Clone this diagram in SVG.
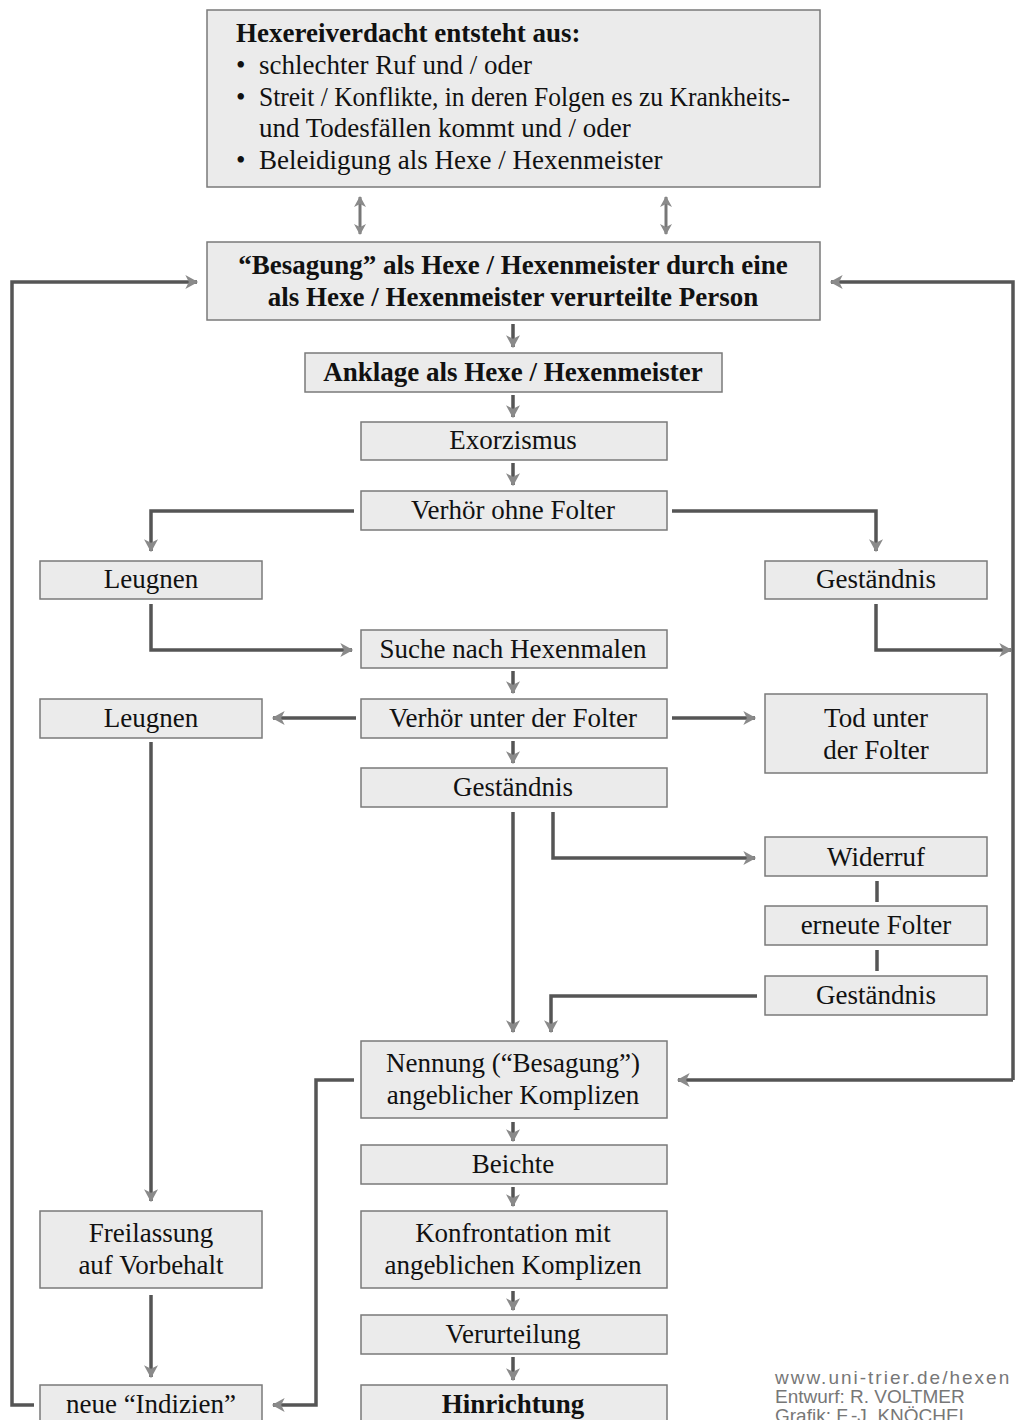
<svg xmlns="http://www.w3.org/2000/svg" width="1015" height="1420" viewBox="0 0 1015 1420">
<defs>
<style>
.box{fill:#ebebeb;stroke:#7a7a7a;stroke-width:1.5}
.t{font-family:"Liberation Serif","Times New Roman",serif;font-size:27px;fill:#111;text-anchor:middle}
.tl{font-family:"Liberation Serif","Times New Roman",serif;font-size:27px;fill:#111}
.b{font-weight:bold}
.c{fill:none;stroke:#555;stroke-width:3.5}
.foot{font-family:"Liberation Sans",Arial,sans-serif;font-size:19px;fill:#777}
</style>
<marker id="ah" markerUnits="userSpaceOnUse" markerWidth="14" markerHeight="14" viewBox="0 0 12 12" refX="10" refY="6" orient="auto">
<path d="M0,0 L11,6 L0,12 L3,6 z" fill="#8a8a8a"/>
</marker>
<marker id="ahs" markerUnits="userSpaceOnUse" markerWidth="12" markerHeight="12" viewBox="0 0 12 12" refX="10" refY="6" orient="auto-start-reverse">
<path d="M0,0 L11,6 L0,12 L3,6 z" fill="#8a8a8a"/>
</marker>
</defs>
<rect width="1015" height="1420" fill="#fff"/>

<g id="connectors">
<line class="c" x1="360" y1="197" x2="360" y2="234" marker-start="url(#ahs)" marker-end="url(#ahs)" style="stroke:#777;stroke-width:3"/>
<line class="c" x1="666" y1="197" x2="666" y2="234" marker-start="url(#ahs)" marker-end="url(#ahs)" style="stroke:#777;stroke-width:3"/>
<line class="c" x1="513" y1="324" x2="513" y2="347" marker-end="url(#ah)"/>
<line class="c" x1="513" y1="395" x2="513" y2="417" marker-end="url(#ah)"/>
<line class="c" x1="513" y1="463" x2="513" y2="485" marker-end="url(#ah)"/>
<polyline class="c" points="354,511 151,511 151,551" marker-end="url(#ah)"/>
<polyline class="c" points="672,511 876,511 876,551" marker-end="url(#ah)"/>
<polyline class="c" points="151,604 151,650 352,650" marker-end="url(#ah)"/>
<polyline class="c" points="876,604 876,650 1011,650" marker-end="url(#ah)"/>
<line class="c" x1="513" y1="671" x2="513" y2="693" marker-end="url(#ah)"/>
<line class="c" x1="356" y1="718" x2="273" y2="718" marker-end="url(#ah)"/>
<line class="c" x1="672" y1="718" x2="755" y2="718" marker-end="url(#ah)"/>
<line class="c" x1="513" y1="741" x2="513" y2="763" marker-end="url(#ah)"/>
<line class="c" x1="513" y1="812" x2="513" y2="1032" marker-end="url(#ah)"/>
<polyline class="c" points="553,812 553,858 755,858" marker-end="url(#ah)"/>
<line class="c" x1="877" y1="881" x2="877" y2="902"/>
<line class="c" x1="877" y1="950" x2="877" y2="971"/>
<polyline class="c" points="757,996 551,996 551,1032" marker-end="url(#ah)"/>
<polyline class="c" points="1013,1080 1013,282 831,282" marker-end="url(#ah)"/>
<line class="c" x1="1013" y1="1080" x2="678" y2="1080" marker-end="url(#ah)"/>
<polyline class="c" points="354,1080 316,1080 316,1405 273,1405" marker-end="url(#ah)"/>
<polyline class="c" points="34,1405 12,1405 12,282 197,282" marker-end="url(#ah)"/>
<line class="c" x1="151" y1="742" x2="151" y2="1201" marker-end="url(#ah)"/>
<line class="c" x1="151" y1="1295" x2="151" y2="1377" marker-end="url(#ah)"/>
<line class="c" x1="513" y1="1122" x2="513" y2="1141" marker-end="url(#ah)"/>
<line class="c" x1="513" y1="1187" x2="513" y2="1206" marker-end="url(#ah)"/>
<line class="c" x1="513" y1="1291" x2="513" y2="1310" marker-end="url(#ah)"/>
<line class="c" x1="513" y1="1357" x2="513" y2="1380" marker-end="url(#ah)"/>
</g>

<g id="n_verdacht">
<rect class="box" x="207" y="10" width="613" height="177"/>
<text class="tl b" x="236" y="42">Hexereiverdacht entsteht aus:</text>
<text class="tl" x="236" y="74">•</text><text class="tl" x="259" y="74">schlechter Ruf und / oder</text>
<text class="tl" x="236" y="106">•</text><text class="tl" x="259" y="106" textLength="531" lengthAdjust="spacingAndGlyphs">Streit / Konflikte, in deren Folgen es zu Krankheits-</text>
<text class="tl" x="259" y="137">und Todesfällen kommt und / oder</text>
<text class="tl" x="236" y="169">•</text><text class="tl" x="259" y="169">Beleidigung als Hexe / Hexenmeister</text>
</g>
<g id="n_besagung">
<rect class="box" x="207" y="242" width="613" height="78"/>
<text class="t b" x="513" y="274">“Besagung” als Hexe / Hexenmeister durch eine</text>
<text class="t b" x="513" y="306">als Hexe / Hexenmeister verurteilte Person</text>
</g>
<g id="n_anklage">
<rect class="box" x="305" y="353" width="417" height="39"/>
<text class="t b" x="513" y="381">Anklage als Hexe / Hexenmeister</text>
</g>
<g id="n_exorzismus">
<rect class="box" x="361" y="422" width="306" height="38"/>
<text class="t" x="513" y="449">Exorzismus</text>
</g>
<g id="n_verhoer1">
<rect class="box" x="361" y="491" width="306" height="39"/>
<text class="t" x="513" y="519">Verhör ohne Folter</text>
</g>
<g id="n_leugnen1">
<rect class="box" x="40" y="561" width="222" height="38"/>
<text class="t" x="151" y="588">Leugnen</text>
</g>
<g id="n_gest1">
<rect class="box" x="765" y="561" width="222" height="38"/>
<text class="t" x="876" y="588">Geständnis</text>
</g>
<g id="n_suche">
<rect class="box" x="361" y="630" width="306" height="38"/>
<text class="t" x="513" y="658">Suche nach Hexenmalen</text>
</g>
<g id="n_verhoer2">
<rect class="box" x="361" y="699" width="306" height="39"/>
<text class="t" x="513" y="727">Verhör unter der Folter</text>
</g>
<g id="n_leugnen2">
<rect class="box" x="40" y="699" width="222" height="39"/>
<text class="t" x="151" y="727">Leugnen</text>
</g>
<g id="n_tod">
<rect class="box" x="765" y="694" width="222" height="79"/>
<text class="t" x="876" y="727">Tod unter</text>
<text class="t" x="876" y="759">der Folter</text>
</g>
<g id="n_gest2">
<rect class="box" x="361" y="768" width="306" height="39"/>
<text class="t" x="513" y="796">Geständnis</text>
</g>
<g id="n_widerruf">
<rect class="box" x="765" y="837" width="222" height="39"/>
<text class="t" x="876" y="866">Widerruf</text>
</g>
<g id="n_erneut">
<rect class="box" x="765" y="906" width="222" height="39"/>
<text class="t" x="876" y="934">erneute Folter</text>
</g>
<g id="n_gest3">
<rect class="box" x="765" y="976" width="222" height="39"/>
<text class="t" x="876" y="1004">Geständnis</text>
</g>
<g id="n_nennung">
<rect class="box" x="361" y="1041" width="306" height="77"/>
<text class="t" x="513" y="1072">Nennung (“Besagung”)</text>
<text class="t" x="513" y="1104">angeblicher Komplizen</text>
</g>
<g id="n_beichte">
<rect class="box" x="361" y="1145" width="306" height="39"/>
<text class="t" x="513" y="1173">Beichte</text>
</g>
<g id="n_freilassung">
<rect class="box" x="40" y="1211" width="222" height="77"/>
<text class="t" x="151" y="1242">Freilassung</text>
<text class="t" x="151" y="1274">auf Vorbehalt</text>
</g>
<g id="n_konfrontation">
<rect class="box" x="361" y="1211" width="306" height="77"/>
<text class="t" x="513" y="1242">Konfrontation mit</text>
<text class="t" x="513" y="1274">angeblichen Komplizen</text>
</g>
<g id="n_verurteilung">
<rect class="box" x="361" y="1315" width="306" height="39"/>
<text class="t" x="513" y="1343">Verurteilung</text>
</g>
<g id="n_indizien">
<rect class="box" x="40" y="1385" width="222" height="40"/>
<text class="t" x="151" y="1413">neue “Indizien”</text>
</g>
<g id="n_hinrichtung">
<rect class="box" x="361" y="1385" width="306" height="40"/>
<text class="t b" x="513" y="1413">Hinrichtung</text>
</g>
<g id="footer">
<text class="foot" x="775" y="1384" style="letter-spacing:2px">www.uni-trier.de/hexen</text>
<text class="foot" x="775" y="1403">Entwurf: R. VOLTMER</text>
<text class="foot" x="775" y="1422">Grafik: F.-J. KNÖCHEL</text>
</g>
</svg>
